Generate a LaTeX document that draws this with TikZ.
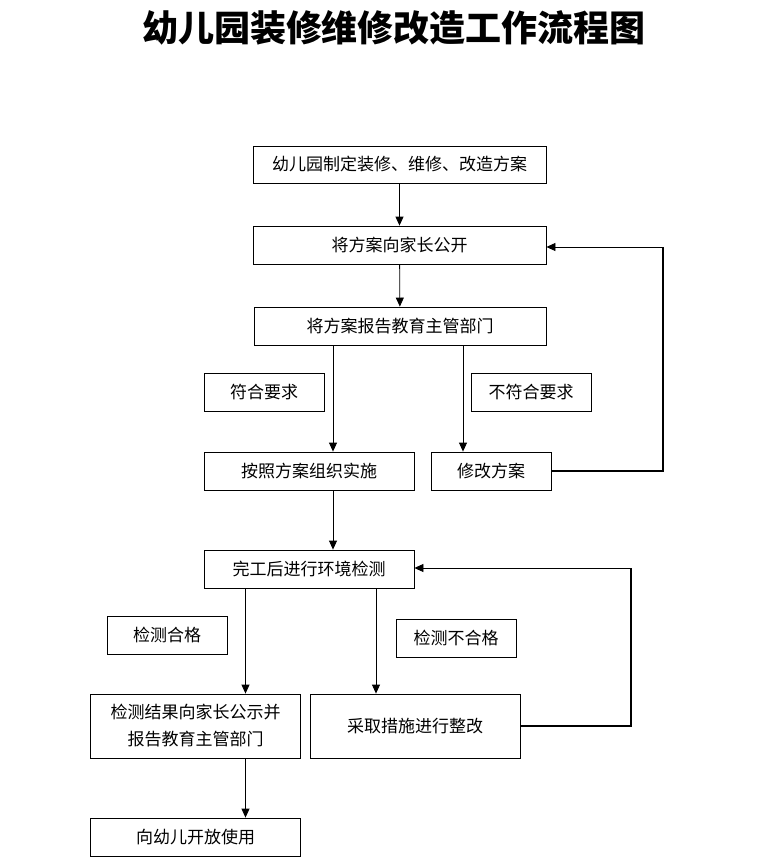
\documentclass[tikz,border=0pt]{standalone}
\usepackage{fontspec}
\newfontfamily\cjk{Noto Sans CJK SC}
\usetikzlibrary{arrows.meta}
\begin{document}
\begin{tikzpicture}[x=1pt,y=-1pt,
  box/.style={draw, line width=0.8pt, inner sep=0pt, align=center,
    font=\cjk\fontsize{17}{27}\selectfont},
  arr/.style={line width=0.8pt, -{Triangle[length=9pt,width=8pt]}},
  loopline/.style={line width=1.6pt},
  title/.style={font=\cjk\bfseries\fontsize{36}{40}\selectfont}]
\useasboundingbox (0,0) rectangle (760,863);
\node[title] (T) at (394,28) {幼儿园装修维修改造工作流程图};
\node[box, minimum width=293pt, minimum height=37pt] (B1) at (399.5,164.5) {幼儿园制定装修、维修、改造方案};
\node[box, minimum width=293pt, minimum height=38pt] (B2) at (399.5,245) {将方案向家长公开};
\node[box, minimum width=292pt, minimum height=38pt] (B3) at (400,326) {将方案报告教育主管部门};
\node[box, minimum width=120pt, minimum height=38pt] (L1) at (264,392) {符合要求};
\node[box, minimum width=120pt, minimum height=38pt] (L2) at (531,392) {不符合要求};
\node[box, minimum width=210pt, minimum height=38pt] (B4) at (309,471) {按照方案组织实施};
\node[box, minimum width=120pt, minimum height=38pt] (B5) at (491,471) {修改方案};
\node[box, minimum width=210pt, minimum height=38pt] (B6) at (309,569) {完工后进行环境检测};
\node[box, minimum width=120pt, minimum height=38pt] (L3) at (167,635) {检测合格};
\node[box, minimum width=120pt, minimum height=38pt] (L4) at (456,638) {检测不合格};
\node[box, minimum width=210pt, minimum height=64pt] (B7) at (195.5,726) {检测结果向家长公示并\\报告教育主管部门};
\node[box, minimum width=210pt, minimum height=64pt] (B8) at (415,726) {采取措施进行整改};
\node[box, minimum width=210pt, minimum height=38pt] (B9) at (195.5,837) {向幼儿开放使用};
\coordinate (x333) at (333,0);
\coordinate (x463) at (463,0);
\coordinate (x245) at (245.5,0);
\coordinate (x376) at (376,0);
\coordinate (R1) at (663,247);
\coordinate (R2) at (631,568);
\draw[arr] (B1) -- (B2);
\draw[arr] (B2) -- (B3);
\draw[arr] (B3.south -| x333) -- (B4.north -| x333);
\draw[arr] (B3.south -| x463) -- (B5.north -| x463);
\draw[arr] (B4.south -| x333) -- (B6.north -| x333);
\draw[arr] (B6.south -| x245) -- (B7.north -| x245);
\draw[arr] (B6.south -| x376) -- (B8.north -| x376);
\draw[arr] (B7.south -| x245) -- (B9.north -| x245);
\draw[loopline] (B5.east) -| (R1);
\draw[arr] (R1) -- (B2.east |- R1);
\draw[loopline] (B8.east) -| (R2);
\draw[arr] (R2) -- (B6.east |- R2);
\end{tikzpicture}
\end{document}
